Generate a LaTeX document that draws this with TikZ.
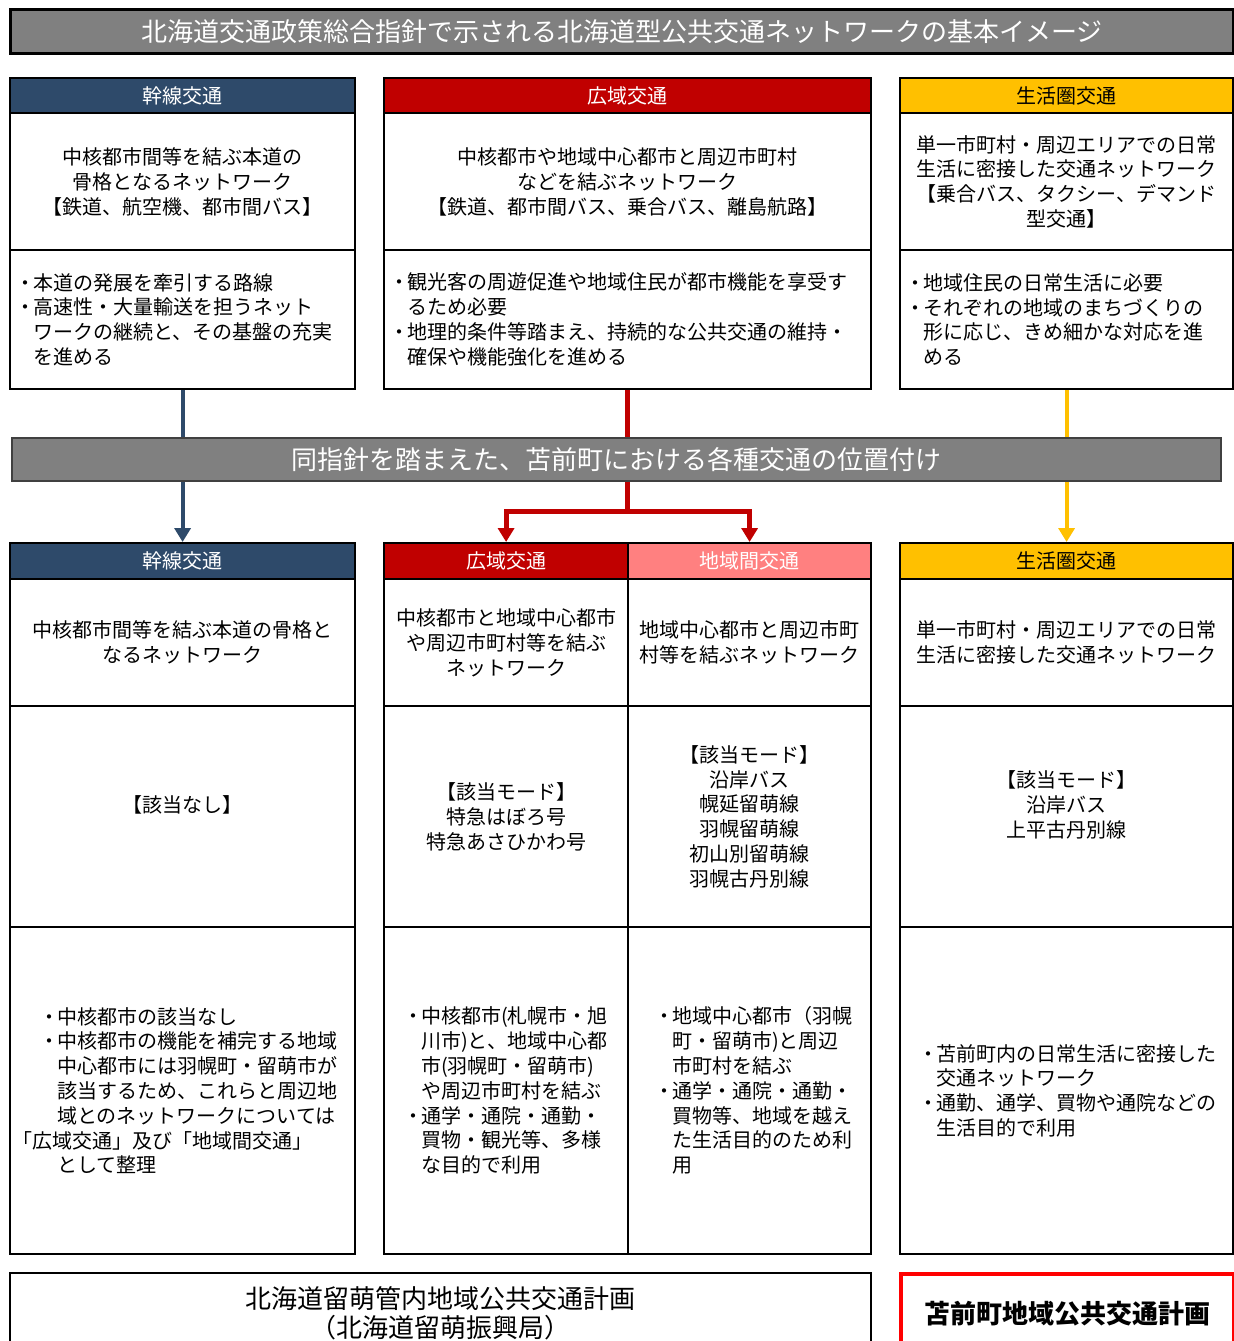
\documentclass[tikz,border=0pt]{standalone}
\usepackage{fontspec}
\setmainfont{Noto Sans CJK JP}
\usetikzlibrary{arrows.meta,positioning}
\definecolor{kansen}{RGB}{46,74,106}
\definecolor{kouiki}{RGB}{192,0,0}
\definecolor{chiiki}{RGB}{255,128,128}
\definecolor{seikatsu}{RGB}{255,192,0}
\definecolor{bargray}{RGB}{128,128,128}
\definecolor{planred}{RGB}{255,0,0}
\newcommand{\bodyfont}{\fontsize{10pt}{12.4pt}\selectfont}
\newcommand{\barfont}{\fontsize{13pt}{14.5pt}\selectfont}
\newcommand{\bul}{\makebox[0.75em][c]{・}}
\newcommand{\bulgap}{\hspace*{0.75em}}

\begin{document}
\begin{tikzpicture}[x=0.5pt, y=-0.5pt, line join=miter,
    cell/.style={draw, line width=1.1pt, anchor=north west, inner sep=0pt, font=\bodyfont, align=center},
    lcell/.style={cell, align=left},
    head/.style={cell, text=white},
    bar/.style={anchor=north west, fill=bargray, text=white, font=\barfont, inner sep=0pt},
    tip/.style={-{Triangle[length=7pt, width=8pt]}}]
  \useasboundingbox (0,0) rectangle (1234,1341);
  \fill[white] (0,0) rectangle (1234,1341);

  % upper bar
  \node[bar, draw=black, line width=1.5pt, minimum width=611.5pt, minimum height=22pt] (title) at (9,8)
    {北海道交通政策総合指針で示される北海道型公共交通ネットワークの基本イメージ};

  % upper row
  \node[head, fill=kansen, minimum width=172.5pt, minimum height=17.5pt] (kansenhead) at (9,77) {幹線交通};
  \node[cell, minimum width=172.5pt, minimum height=68.5pt] (kansenmain) at (9,112)
    {中核都市間等を結ぶ本道の\\骨格となるネットワーク\\【鉄道、航空機、都市間バス】};
  \node[lcell, inner xsep=4pt, text width=164.5pt, minimum height=69.5pt] (kansennote) at (9,249)
    {\bul 本道の発展を牽引する路線\\\bul 高速性・大量輸送を担うネット\\\bulgap ワークの継続と、その基盤の充実\\\bulgap を進める};

  \node[head, fill=kouiki, minimum width=243.5pt, minimum height=17.5pt] (kouikihead) at (383,77) {広域交通};
  \node[cell, minimum width=243.5pt, minimum height=68.5pt] (kouikimain) at (383,112)
    {中核都市や地域中心都市と周辺市町村\\などを結ぶネットワーク\\【鉄道、都市間バス、乗合バス、離島航路】};
  \node[lcell, inner xsep=4pt, text width=235.5pt, minimum height=69.5pt] (kouikinote) at (383,249)
    {\bul 観光客の周遊促進や地域住民が都市機能を享受す\\\bulgap るため必要\\\bul 地理的条件等踏まえ、持続的な公共交通の維持・\\\bulgap 確保や機能強化を進める};

  \node[head, fill=seikatsu, text=black, minimum width=166.5pt, minimum height=17.5pt] (seikatsuhead) at (899,77) {生活圏交通};
  \node[cell, minimum width=166.5pt, minimum height=68.5pt] (seikatsumain) at (899,112)
    {単一市町村・周辺エリアでの日常\\生活に密接した交通ネットワーク\\【乗合バス、タクシー、デマンド\\型交通】};
  \node[lcell, inner xsep=4pt, text width=158.5pt, minimum height=69.5pt] (seikatsunote) at (899,249)
    {\bul 地域住民の日常生活に必要\\\bul それぞれの地域のまちづくりの\\\bulgap 形に応じ、きめ細かな対応を進\\\bulgap める};

  % middle bar
  \node[bar, draw=black!75, line width=1pt, minimum width=604.5pt, minimum height=21.5pt] (midbar) at (11,437)
    {同指針を踏まえた、苫前町における各種交通の位置付け};

  % lower row
  \node[head, fill=kansen, minimum width=172.5pt, minimum height=18pt] (kansenhdr) at (9,542) {幹線交通};
  \node[cell, minimum width=172.5pt, minimum height=63.5pt] (kansenrole) at (9,578)
    {中核都市間等を結ぶ本道の骨格と\\なるネットワーク};
  \node[cell, minimum width=172.5pt, minimum height=110.5pt] (kansenmode) at (9,705) {【該当なし】\\\mbox{}};
  \node[lcell, inner xsep=1pt, text width=170.5pt, minimum height=163.5pt] (kansenuse) at (9,926)
    {\hspace*{1.5em}\bul 中核都市の該当なし\\\hspace*{1.5em}\bul 中核都市の機能を補完する地域\\\hspace*{1.5em}\bulgap 中心都市には羽幌町・留萌市が\\\hspace*{1.5em}\bulgap 該当するため、これらと周辺地\\\hspace*{1.5em}\bulgap 域とのネットワークについては\\「広域交通」及び「地域間交通」\\\hspace*{1.5em}\bulgap として整理};

  \node[head, fill=kouiki, minimum width=122pt, minimum height=18pt] (kouikihdr) at (383,542) {広域交通};
  \node[cell, minimum width=122pt, minimum height=63.5pt] (kouikirole) at (383,578)
    {中核都市と地域中心都市\\や周辺市町村等を結ぶ\\ネットワーク};
  \node[cell, minimum width=122pt, minimum height=110.5pt] (kouikimode) at (383,705)
    {【該当モード】\\特急はぼろ号\\特急あさひかわ号};
  \node[lcell, inner xsep=11pt, text width=100pt, minimum height=163.5pt] (kouikiuse) at (383,926)
    {\bul 中核都市(札幌市・旭\\\bulgap 川市)と、地域中心都\\\bulgap 市(羽幌町・留萌市)\\\bulgap や周辺市町村を結ぶ\\\bul 通学・通院・通勤・\\\bulgap 買物・観光等、多様\\\bulgap な目的で利用};

  \node[head, fill=chiiki, minimum width=121.5pt, minimum height=18pt] (chiikihdr) at (627,542) {地域間交通};
  \node[cell, minimum width=121.5pt, minimum height=63.5pt] (chiikirole) at (627,578)
    {地域中心都市と周辺市町\\村等を結ぶネットワーク};
  \node[cell, minimum width=121.5pt, minimum height=110.5pt] (chiikimode) at (627,705)
    {【該当モード】\\沿岸バス\\幌延留萌線\\羽幌留萌線\\初山別留萌線\\羽幌古丹別線};
  \node[lcell, inner xsep=14.5pt, text width=92.5pt, minimum height=163.5pt] (chiikiuse) at (627,926)
    {\bul 地域中心都市（羽幌\\\bulgap 町・留萌市)と周辺\\\bulgap 市町村を結ぶ\\\bul 通学・通院・通勤・\\\bulgap 買物等、地域を越え\\\bulgap た生活目的のため利\\\bulgap 用};

  \node[head, fill=seikatsu, text=black, minimum width=166.5pt, minimum height=18pt] (seikatsuhdr) at (899,542) {生活圏交通};
  \node[cell, minimum width=166.5pt, minimum height=63.5pt] (seikatsurole) at (899,578)
    {単一市町村・周辺エリアでの日常\\生活に密接した交通ネットワーク};
  \node[cell, minimum width=166.5pt, minimum height=110.5pt] (seikatsumode) at (899,705)
    {【該当モード】\\沿岸バス\\上平古丹別線\\\mbox{}};
  \node[lcell, inner xsep=10.5pt, text width=145.5pt, minimum height=163.5pt] (seikatsuuse) at (899,926)
    {\bul 苫前町内の日常生活に密接した\\\bulgap 交通ネットワーク\\\bul 通勤、通学、買物や通院などの\\\bulgap 生活目的で利用};

  % plans
  \node[cell, font=\barfont, minimum width=430.5pt, minimum height=40pt] (rumoiplan) at (9,1272)
    {北海道留萌管内地域公共交通計画\\（北海道留萌振興局）};
  \node[cell, draw=planred, line width=2pt, font=\barfont\bfseries, minimum width=166.5pt, minimum height=40pt] (tomamaeplan) at (899,1272)
    {苫前町地域公共交通計画};

  % connectors
  \draw[kansen, line width=2pt] (kansennote.south) -- (kansennote.south |- midbar.north);
  \draw[kansen, line width=2pt, tip] (midbar.south -| kansenhdr.north) -- (kansenhdr.north);

  \draw[kouiki, line width=2.5pt] (kouikinote.south) -- (kouikinote.south |- midbar.north);
  \draw[kouiki, line width=2.5pt] (kouikinote.south |- midbar.south) -- ++(0,29) coordinate (fork);
  \draw[kouiki, line width=2.5pt, tip] (fork) -| (kouikihdr.north);
  \draw[kouiki, line width=2.5pt, tip] (fork) -| (chiikihdr.north);

  \draw[seikatsu, line width=2pt] (seikatsunote.south) -- (seikatsunote.south |- midbar.north);
  \draw[seikatsu, line width=2pt, tip] (midbar.south -| seikatsuhdr.north) -- (seikatsuhdr.north);
\end{tikzpicture}
\end{document}
